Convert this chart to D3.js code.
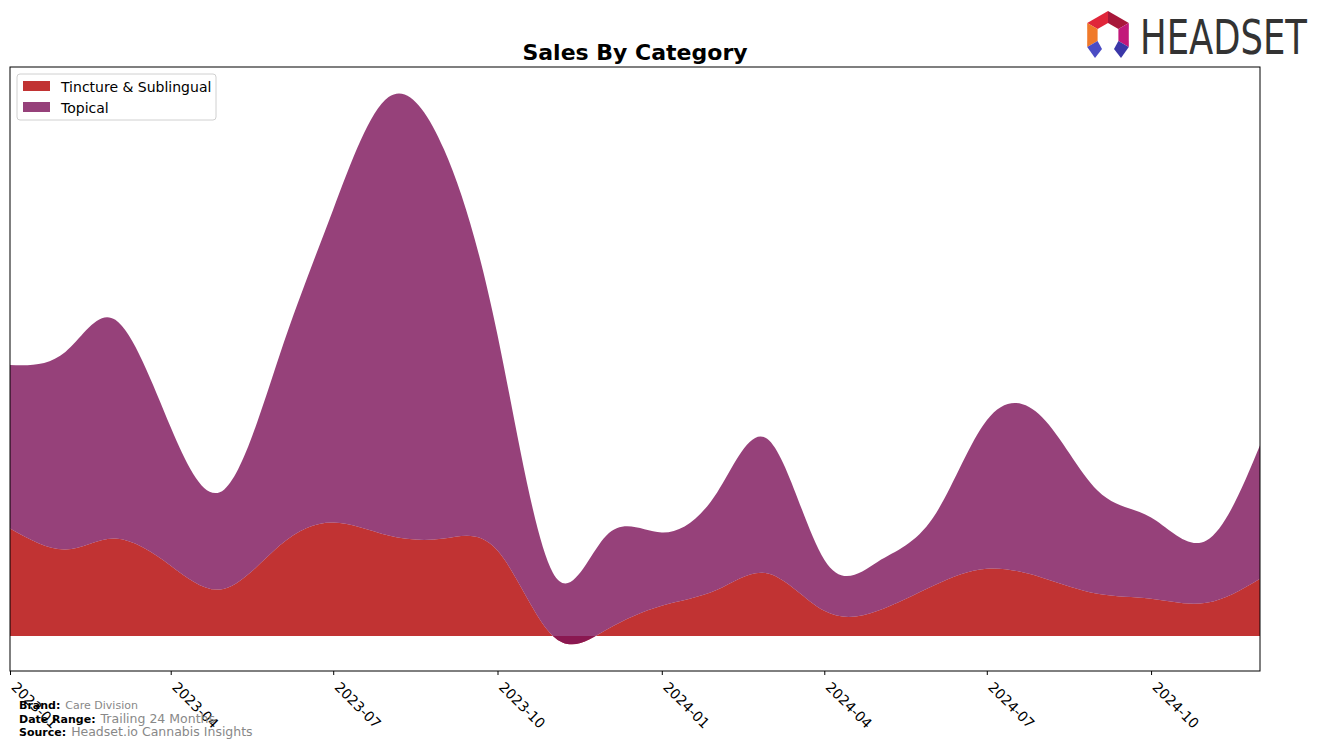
<!DOCTYPE html>
<html>
<head>
<meta charset="utf-8">
<script src="https://cdn.jsdelivr.net/npm/d3@7"></script>
<style>
  html, body { margin: 0; padding: 0; background: #fff; }
  svg { display: block; font-family: "DejaVu Sans", sans-serif; }
</style>
</head>
<body>
<svg id="chart" width="1324" height="748"></svg>
<script>
// ---- data ----
const months = ["2023-01","2023-02","2023-03","2023-04","2023-05","2023-06","2023-07","2023-08","2023-09","2023-10","2023-11","2023-12",
                "2024-01","2024-02","2024-03","2024-04","2024-05","2024-06","2024-07","2024-08","2024-09","2024-10","2024-11","2024-12"];
const tincture = [107, 86, 97, 70, 47, 90, 113, 100, 97, 85, 0, 6, 30, 46, 62, 25, 25, 50, 67, 58, 42, 37, 33, 57];
const topical  = [163, 197, 218, 138, 99, 190, 312, 437, 388, 215, 63, 94, 73, 97, 133, 51, 49, 68, 148, 160, 103, 81, 62, 133];
const seriesNames = ["Tincture & Sublingual", "Topical"];
const seriesColors = ["#b20000", "#7c1259"];
const tickMonths = ["2023-01","2023-04","2023-07","2023-10","2024-01","2024-04","2024-07","2024-10"];
const footerLabels = ["Brand:", "Date Range:", "Source:"];
const footerValues = ["Care Division", "Trailing 24 Months", "Headset.io Cannabis Insights"];

// ---- layout ----
const svg = d3.select("#chart");
const plot = {left: 10, right: 1260, top: 67, bottom: 671};
const parse = d3.utcParse("%Y-%m");
const dates = months.map(parse);

const x = d3.scaleUtc()
  .domain([dates[0], dates[dates.length - 1]])
  .range([plot.left, plot.right]);
const y = d3.scaleLinear()
  .domain([-35, 567])
  .range([plot.bottom, plot.top]);

const rows = months.map((m, i) => ({date: dates[i], tincture: tincture[i], topical: topical[i]}));
const stack = d3.stack().keys(["tincture", "topical"]).offset(d3.stackOffsetNone);
const layers = stack(rows);

const area = d3.area()
  .x(d => x(d.data.date))
  .y0(d => y(d[0]))
  .y1(d => y(d[1]))
  .curve(d3.curveNatural);

svg.append("defs").append("clipPath").attr("id", "clip")
  .append("rect")
  .attr("x", plot.left).attr("y", plot.top)
  .attr("width", plot.right - plot.left).attr("height", plot.bottom - plot.top);

svg.append("g").attr("clip-path", "url(#clip)")
  .selectAll("path")
  .data(layers)
  .join("path")
  .attr("d", area)
  .attr("fill", (d, i) => seriesColors[i])
  .attr("fill-opacity", 0.8);

// frame
svg.append("rect")
  .attr("x", plot.left).attr("y", plot.top)
  .attr("width", plot.right - plot.left).attr("height", plot.bottom - plot.top)
  .attr("fill", "none").attr("stroke", "#000").attr("stroke-width", 1);

// x axis
const xAxis = d3.axisBottom(x)
  .tickValues(tickMonths.map(parse))
  .tickFormat(d3.utcFormat("%Y-%m"))
  .tickSize(4)
  .tickSizeOuter(0);

const gx = svg.append("g")
  .attr("transform", `translate(0,${plot.bottom})`)
  .call(xAxis);
gx.select(".domain").remove();
gx.selectAll(".tick line").attr("stroke", "#000");
gx.selectAll(".tick text")
  .attr("font-size", 14)
  .attr("font-family", "DejaVu Sans, sans-serif")
  .attr("fill", "#000")
  .attr("text-anchor", "start")
  .attr("x", 0).attr("y", 0).attr("dy", 0)
  .attr("transform", "translate(0,17) rotate(45)");

// title
svg.append("text")
  .attr("x", 635).attr("y", 60)
  .attr("text-anchor", "middle")
  .attr("font-size", 22)
  .attr("font-weight", "bold")
  .attr("fill", "#000")
  .text("Sales By Category");

// legend
const lg = svg.append("g");
lg.append("rect")
  .attr("x", 17).attr("y", 74).attr("width", 199).attr("height", 46)
  .attr("rx", 3).attr("fill", "#fff").attr("fill-opacity", 0.8)
  .attr("stroke", "#d0d0d0");
seriesNames.forEach((name, i) => {
  lg.append("rect")
    .attr("x", 23).attr("y", 81 + i * 21).attr("width", 27).attr("height", 10)
    .attr("fill", seriesColors[i]).attr("fill-opacity", 0.8);
  lg.append("text")
    .attr("x", 61).attr("y", 92 + i * 21)
    .attr("font-size", 14).attr("fill", "#000")
    .text(name);
});

// footer
const footSizes = [11, 12.5, 12.5];
footerLabels.forEach((lab, i) => {
  const t = svg.append("text")
    .attr("x", 19).attr("y", 709 + i * 13.5);
  t.append("tspan").attr("font-weight", "bold").attr("font-size", 11).attr("fill", "#000").text(lab);
  t.append("tspan").attr("font-size", footSizes[i]).attr("fill", "#888").attr("dx", 5).text(footerValues[i]);
});

// logo
const logo = svg.append("g");
const cx = 1108, cy = 35, ro = 24, ri = 12;
const pt = (a, r) => [cx + r * Math.cos(a * Math.PI / 180), cy + r * Math.sin(a * Math.PI / 180)];
const segs = [
  {a0: -90, a1: -30, c: "#a8173a"},
  {a0: -150, a1: -90, c: "#e0263a"},
  {a0: -30, a1: 30, c: "#c2187a"},
  {a0: 150, a1: 210, c: "#f07a2a"}
];
segs.forEach(s => {
  const p = [pt(s.a0, ro), pt(s.a1, ro), pt(s.a1, ri), pt(s.a0, ri)];
  logo.append("polygon").attr("points", p.map(q => q.join(",")).join(" ")).attr("fill", s.c);
});
// legs
const legL = [pt(150, ro), pt(150, ri), [cx - 6, cy + 14], [cx - 13, cy + 23]];
const legR = [pt(30, ro), pt(30, ri), [cx + 6, cy + 14], [cx + 13, cy + 23]];
logo.append("polygon").attr("points", legL.map(q => q.join(",")).join(" ")).attr("fill", "#4b4cc4");
logo.append("polygon").attr("points", legR.map(q => q.join(",")).join(" ")).attr("fill", "#3a37a8");
logo.append("g")
  .attr("transform", "translate(1140,54) scale(1,1.6)")
  .append("text")
  .attr("x", 0).attr("y", 0)
  .attr("font-family", "'DejaVu Sans Condensed', 'DejaVu Sans', sans-serif")
  .attr("font-size", 30)
  .attr("fill", "#333")
  .attr("textLength", 167)
  .attr("lengthAdjust", "spacingAndGlyphs")
  .text("HEADSET");
</script>
</body>
</html>
